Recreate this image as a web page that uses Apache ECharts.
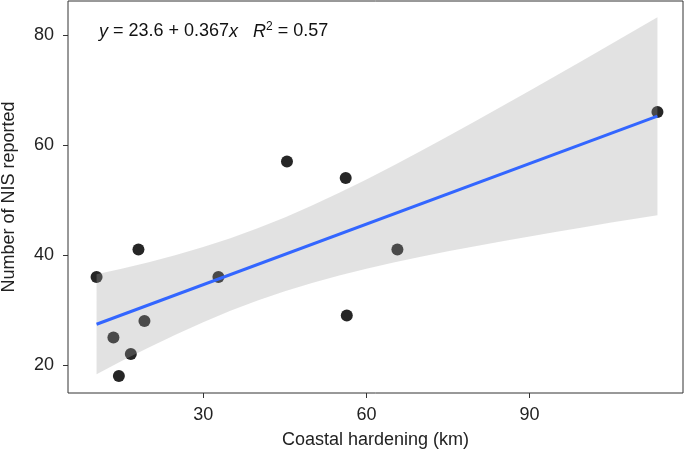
<!DOCTYPE html>
<html>
<head>
<meta charset="utf-8">
<script src="https://cdn.jsdelivr.net/npm/echarts@6/dist/echarts.min.js"></script>
<style>html,body{margin:0;padding:0;background:#fff}#c{width:685px;height:454px}</style>
</head>
<body>
<div id="c"></div>
<script>
// Observed points
var hardening = [10.4, 18.1, 13.5, 16.7, 14.5, 19.2, 32.8, 56.2, 65.7, 56.4, 45.4, 113.5];
var nisCount  = [36, 41, 25, 22, 18, 28, 36, 54, 41, 29, 57, 66];
// Fitted line endpoints
var fitX = [10.4, 113.5];
var fitY = [27.4, 65.25];
// Confidence band read at sample positions
var bandX  = [10.4, 15, 20, 25, 30, 35, 40, 45, 50, 55, 60, 65, 70, 75, 80, 85, 90, 95, 100, 105, 110, 113.5];
var bandLo = [18.33, 20.70, 23.18, 25.55, 27.78, 29.84, 31.71, 33.40, 34.91, 36.27, 37.49, 38.62, 39.67, 40.66, 41.60, 42.51, 43.38, 44.24, 45.07, 45.89, 46.69, 47.25];
var bandHi = [36.51, 37.52, 38.70, 40.01, 41.44, 43.06, 44.85, 46.84, 48.99, 51.31, 53.75, 56.30, 58.91, 61.60, 64.32, 67.09, 69.88, 72.70, 75.53, 78.39, 81.25, 83.25];
var xTicks = [30, 60, 90];
var yTicks = [20, 40, 60, 80];

var chart = echarts.init(document.getElementById('c'), null, {renderer: 'canvas'});
var pts = hardening.map(function (x, i) { return [x, nisCount[i]]; });
var fit = fitX.map(function (x, i) { return [x, fitY[i]]; });
var FONT = 'Liberation Sans, Arial, Helvetica, sans-serif';

chart.setOption({
  animation: false,
  backgroundColor: '#fff',
  grid: {left: 68, right: 2, top: 1, bottom: 61, show: true, borderColor: '#333', borderWidth: 1,
         backgroundColor: 'transparent', containLabel: false, outerBoundsMode: 'none'},
  xAxis: {
    type: 'value', min: 5.15, max: 118.2,
    name: 'Coastal hardening (km)', nameLocation: 'middle', nameGap: 38,
    nameTextStyle: {fontFamily: FONT, fontSize: 18, color: '#222'},
    axisLine: {show: false},
    splitLine: {show: false},
    axisTick: {show: true, length: 5, lineStyle: {color: '#333'}, customValues: xTicks},
    axisLabel: {fontFamily: FONT, fontSize: 18, color: '#222', margin: 13, customValues: xTicks}
  },
  yAxis: {
    type: 'value', min: 14.9, max: 86.2,
    name: 'Number of NIS reported', nameLocation: 'middle', nameGap: 50,
    nameTextStyle: {fontFamily: FONT, fontSize: 18, color: '#222'},
    axisLine: {show: false},
    splitLine: {show: false},
    axisTick: {show: true, length: 5, lineStyle: {color: '#333'}, customValues: yTicks},
    axisLabel: {fontFamily: FONT, fontSize: 18, color: '#222', margin: 14, customValues: yTicks}
  },
  graphic: [{
    type: 'text', left: 99, top: 21, z: 10,
    style: {
      text: '{i|y} = 23.6 + 0.367{i|x}   {i|R}{sup|2} = 0.57',
      fontFamily: FONT, fontSize: 18, fill: '#111',
      rich: {
        i: {fontStyle: 'italic', fontFamily: FONT, fontSize: 18, fill: '#111'},
        sup: {fontFamily: FONT, fontSize: 12, fill: '#111', verticalAlign: 'top', padding: [0, 0, 9, 0]}
      }
    }
  }],
  series: [
    {
      type: 'scatter', data: pts, symbolSize: 12, z: 2,
      itemStyle: {color: '#262626', opacity: 1}
    },
    {
      type: 'custom', z: 3, silent: true,
      data: [0],
      renderItem: function (params, api) {
        var poly = [];
        for (var i = 0; i < bandX.length; i++) poly.push(api.coord([bandX[i], bandHi[i]]));
        for (var j = bandX.length - 1; j >= 0; j--) poly.push(api.coord([bandX[j], bandLo[j]]));
        return {type: 'polygon', shape: {points: poly}, style: {fill: 'rgba(160,160,160,0.3)'}};
      }
    },
    {
      type: 'line', data: fit, z: 4, symbol: 'none',
      lineStyle: {color: '#3366FF', width: 3}
    }
  ]
});
</script>
</body>
</html>
